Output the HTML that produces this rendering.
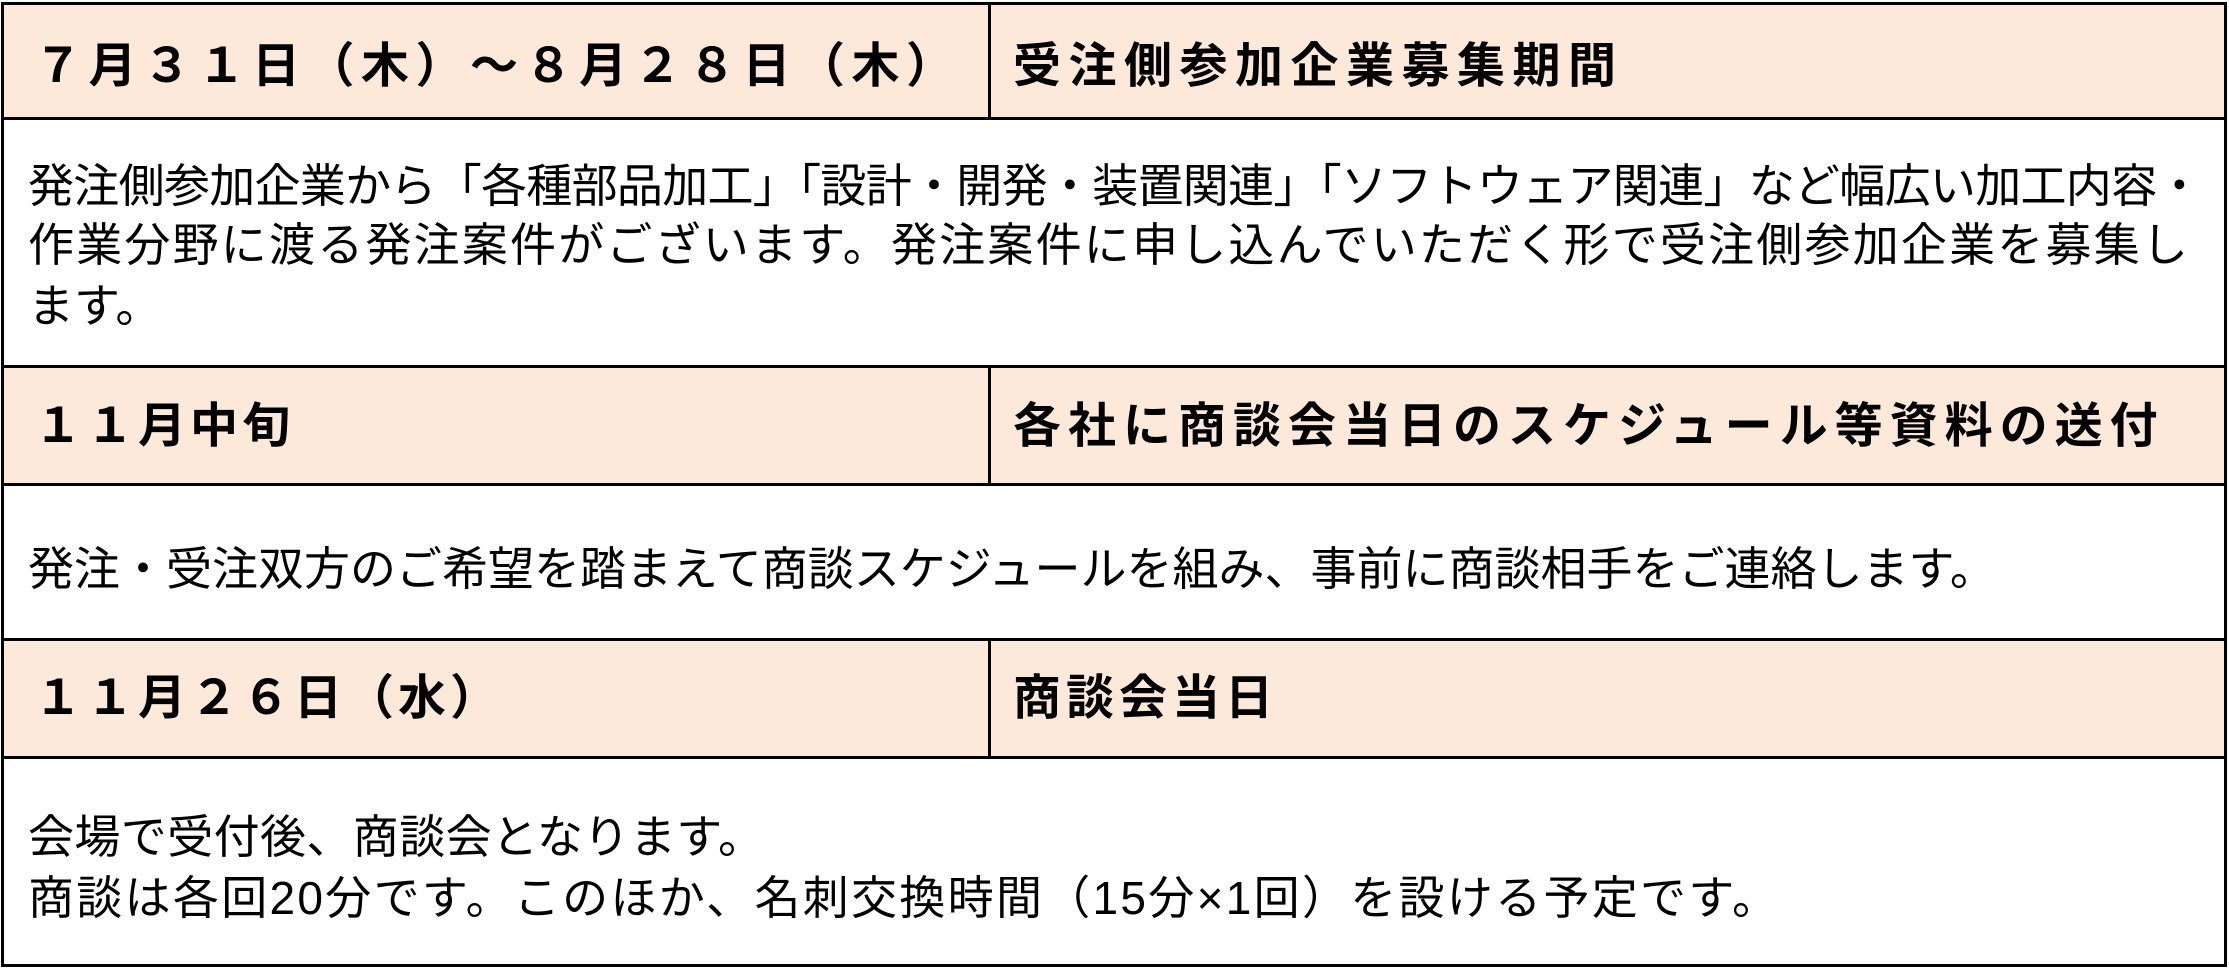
<!DOCTYPE html>
<html><head><meta charset="utf-8"><style>
html,body{margin:0;padding:0;background:#fff;}
#c{position:relative;width:2229px;height:969px;overflow:hidden;font-family:"Liberation Sans","Noto Sans CJK JP",sans-serif;color:#000;}
.b{position:absolute;background:#000;}
.h{position:absolute;background:#fde9d9;}
.t{position:absolute;white-space:nowrap;line-height:1;transform:translateY(-50%);}
.hd{font-size:48px;font-weight:bold;}
.bd{font-size:46px;}
</style></head><body><div id="c">
<div class="h" style="left:3px;top:4px;width:2223px;height:115px"></div>
<div class="h" style="left:3px;top:367px;width:2223px;height:118px"></div>
<div class="h" style="left:3px;top:640px;width:2223px;height:118px"></div>
<div class="b" style="left:1px;top:2px;width:2226px;height:3px"></div>
<div class="b" style="left:1px;top:964px;width:2226px;height:3px"></div>
<div class="b" style="left:1px;top:2px;width:3px;height:965px"></div>
<div class="b" style="left:2224px;top:2px;width:3px;height:965px"></div>
<div class="b" style="left:1px;top:117px;width:2226px;height:3px"></div>
<div class="b" style="left:1px;top:365px;width:2226px;height:3px"></div>
<div class="b" style="left:1px;top:483px;width:2226px;height:3px"></div>
<div class="b" style="left:1px;top:638px;width:2226px;height:3px"></div>
<div class="b" style="left:1px;top:756px;width:2226px;height:3px"></div>
<div class="b" style="left:988px;top:2px;width:3px;height:117px"></div>
<div class="b" style="left:988px;top:365px;width:3px;height:120px"></div>
<div class="b" style="left:988px;top:638px;width:3px;height:120px"></div>

<div class="t hd" style="left:34px;top:67px;letter-spacing:6.5px">７月３１日（木）～８月２８日（木）</div>
<div class="t hd" style="left:1013px;top:67px;letter-spacing:7.5px">受注側参加企業募集期間</div>
<div class="t bd" style="left:28px;top:186px;letter-spacing:-0.7px">発注側参加企業から「各種部品加工」「設計・開発・装置関連」「ソフトウェア関連」など幅広い加工内容・</div>
<div class="t bd" style="left:28px;top:245px;letter-spacing:2.2px">作業分野に渡る発注案件がございます。発注案件に申し込んでいただく形で受注側参加企業を募集し</div>
<div class="t bd" style="left:28px;top:306px">ます。</div>

<div class="t hd" style="left:34px;top:427px;letter-spacing:4px">１１月中旬</div>
<div class="t hd" style="left:1013px;top:427px;letter-spacing:7px">各社に商談会当日のスケジュール等資料の送付</div>
<div class="t bd" style="left:28px;top:569px">発注・受注双方のご希望を踏まえて商談スケジュールを組み、事前に商談相手をご連絡します。</div>

<div class="t hd" style="left:34px;top:699px;letter-spacing:4px">１１月２６日（水）</div>
<div class="t hd" style="left:1013px;top:699px;letter-spacing:5px">商談会当日</div>
<div class="t bd" style="left:28px;top:837px;letter-spacing:0.4px">会場で受付後、商談会となります。</div>
<div class="t bd" style="left:28px;top:898px;letter-spacing:2.3px">商談は各回20分です。このほか、名刺交換時間（15分×1回）を設ける予定です。</div>
</div></body></html>
